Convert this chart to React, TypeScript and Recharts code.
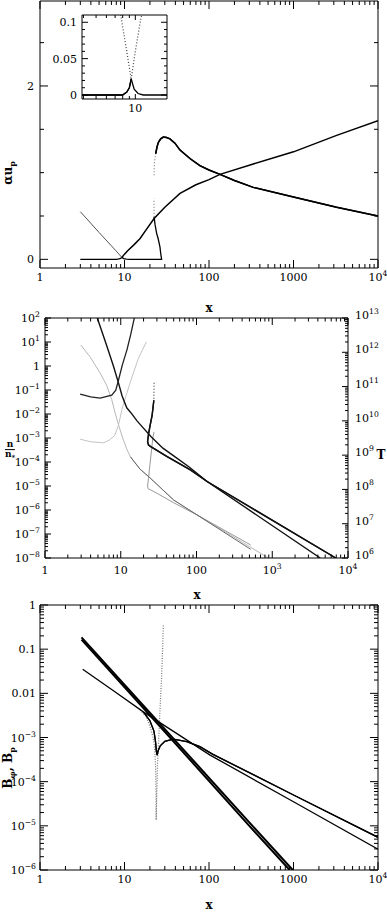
import React from 'react'
import { LineChart, Line, XAxis, YAxis } from 'recharts'

type Pt = [number, number]

// panel 1: alpha u_p against x
const p1Desc: Pt[] = [[3, 0.55], [5, 0.31], [7.9, 0.1], [8.6, 0.06], [9.3, 0.022]]
const p1LowerBranch: Pt[] = [[9.3, 0.022], [9.8, 0.008], [10.5, 0.002], [11.5, 0], [27.5, 0], [26.8, 0.07], [26.3, 0.14], [25, 0.24], [24, 0.3], [23, 0.4], [22.4, 0.49]]
const p1LowerGap: Pt[] = [[22.4, 0.49], [22.35, 0.6], [22.35, 0.7]]
const p1BaseFlat: Pt[] = [[3, 0], [8, 0], [8.6, 0.004], [9, 0.01], [9.3, 0.022]]
const p1Rising: Pt[] = [[9.3, 0.022], [10, 0.06], [10.9, 0.1], [13, 0.17], [15.3, 0.24], [18, 0.34], [22.4, 0.47], [30, 0.6], [45.4, 0.76], [70, 0.86], [100, 0.92], [135, 0.98], [334, 1.1], [1000, 1.24], [3240, 1.43], [10000, 1.6]]
const p1UpperDotted: Pt[] = [[22.4, 0.97], [22.5, 1.1], [23.4, 1.22]]
const p1Upper: Pt[] = [[23.4, 1.22], [24.3, 1.3], [25.2, 1.35], [26.8, 1.39], [28.8, 1.41], [31.5, 1.405], [34.5, 1.39], [39.5, 1.34], [45.4, 1.26], [60, 1.16], [78, 1.08], [100, 1.03], [135, 0.98], [200, 0.91], [334, 0.83], [1000, 0.72], [3240, 0.6], [10000, 0.5]]

// panel 2: n/n* (left) and T (right)
const p2nFall: Pt[] = [[2.97, 7.5], [4, 2.24], [5.35, 0.5], [6.5, 0.16], [7.6, 0.04], [8.5, 0.01], [9.35, 3.5e-3], [10.5, 1.1e-3], [12, 3.5e-4], [13.4, 1.66e-4], [18, 5e-5], [23.4, 2.45e-5], [50, 2.6e-6], [102, 6.2e-7], [890, 1e-8]]
const p2nRise: Pt[] = [[2.91, 8.9e-4], [4, 7e-4], [5.9, 6.3e-4], [7, 8e-4], [8.3, 1.26e-3], [9.35, 3.5e-3], [10.4, 1.6e-2], [12, 7.2e-2], [14.1, 0.35], [17, 2], [21.8, 10.2]]
const p2nHook: Pt[] = [[27.5, 1.8e-3], [26.5, 1e-3], [25.5, 3.2e-4], [24.3, 7.9e-5], [23.2, 2e-5], [22.6, 1e-5], [23, 7.6e-6], [25, 6.8e-6], [30, 5e-6], [50, 2e-6], [102, 6.2e-7], [519, 3.5e-8]]
const p2nTail: Pt[] = [[13.4, 1.66e-4], [18, 5e-5], [23.4, 2.45e-5], [50, 2.6e-6], [102, 6.2e-7], [519, 2.3e-8]]
const p2TFall: Pt[] = [[4.9, 1e13], [6.5, 1.6e12], [8, 4e11], [9.35, 1.26e11], [10.4, 5.4e10], [12, 2.4e10], [14, 1.6e10], [16.4, 1e10], [18, 7.9e9], [25, 3.5e9], [36, 1.6e9], [50, 9.5e8], [80, 4.5e8], [138, 1.7e8], [4300, 1e6]]
const p2TDip: Pt[] = [[2.91, 6e10], [4, 5e10], [5.35, 4.6e10], [7.6, 5.6e10], [8.6, 7.9e10], [9.35, 1.55e11], [10.5, 4.3e11], [12.1, 1.2e12], [13.5, 3.2e12], [15.1, 1e13]]
const p2THookDot: Pt[] = [[27.6, 1.3e11], [27.3, 4e10]]
const p2THook: Pt[] = [[27.3, 4e10], [27.2, 3.6e10], [26, 1.5e10], [24.5, 7.6e9], [23.4, 4.5e9], [22.6, 2.5e9], [23.2, 2e9], [24.6, 1.8e9], [41, 9.1e8], [83, 3.7e8], [138, 1.7e8], [6900, 1e6]]

// panel 3: B_phi, B_p
const p3SteepA: Pt[] = [[3.1, 0.185], [30, 1.55e-3], [300, 1.2e-5], [980, 1e-6]]
const p3SteepB: Pt[] = [[3.1, 0.165], [30, 1.35e-3], [300, 1.0e-5], [900, 1e-6]]
const p3Shallow: Pt[] = [[3.2, 0.035], [8, 0.0103], [16.7, 3.8e-3], [40, 1.29e-3], [103, 4e-4], [1000, 3.5e-5], [10000, 2.95e-6]]
const p3Cusp: Pt[] = [[16.7, 3.8e-3], [20, 2.4e-3], [22.3, 1.4e-3], [23.3, 8e-4], [23.8, 5e-4], [24.3, 4e-4], [25, 5e-4], [26.5, 6.5e-4], [30, 8.2e-4], [37.8, 9.2e-4], [54.5, 8.1e-4], [78, 6.2e-4], [110, 4.2e-4], [1000, 5e-5], [10000, 5.5e-6]]
const p3Spike: Pt[] = [[15.3, 4.2e-3], [18, 3e-3], [20, 1.8e-3], [21.5, 1.1e-3], [22.4, 7.4e-4], [23, 4e-4], [23.3, 2.2e-4], [23.5, 1e-4], [23.6, 5.5e-5], [23.7, 1.35e-5], [24, 3.9e-5], [24.3, 1e-4], [24.5, 2.2e-4], [25.4, 8.7e-4], [26.3, 4.2e-3], [27.5, 0.024], [28.2, 0.095], [28.8, 0.35]]

// tick values and labels
const xMajors = [1, 10, 100, 1000, 10000]
const p1XLabels = ['1', '10', '100', '1000', '10^4']
const p2XLabels = ['1', '10', '100', '10^3', '10^4']
const p1YTicks = [0, 0.5, 1, 1.5, 2, 2.5]
const p1YMajors = [0, 2]
const p1YLabels = ['0', '2']
const p2NMajors = [1e2, 1e1, 1, 1e-1, 1e-2, 1e-3, 1e-4, 1e-5, 1e-6, 1e-7, 1e-8]
const p2NLabels = ['10^2', '10^1', '1', '10^-1', '10^-2', '10^-3', '10^-4', '10^-5', '10^-6', '10^-7', '10^-8']
const p2TMajors = [1e13, 1e12, 1e11, 1e10, 1e9, 1e8, 1e7, 1e6]
const p2TLabels = ['10^13', '10^12', '10^11', '10^10', '10^9', '10^8', '10^7', '10^6']
const p3YMajors = [1, 0.1, 0.01, 1e-3, 1e-4, 1e-5, 1e-6]
const p3YLabels = ['1', '0.1', '0.01', '10^-3', '10^-4', '10^-5', '10^-6']
const insetYTicks = [0, 0.01, 0.02, 0.03, 0.04, 0.05, 0.06, 0.07, 0.08, 0.09, 0.1]
const insetYMajors = [0, 0.05, 0.1]
const insetYLabels = ['0', '0.05', '0.1']
const insetXMajors = [10]
const insetXLabels = ['10']

const FONT = '"DejaVu Serif", "Liberation Serif", serif'

function logTicks(lo: number, hi: number) {
  const t: number[] = []
  for (let e = Math.floor(Math.log10(lo)); e <= Math.ceil(Math.log10(hi)); e++) {
    for (let d = 1; d < 10; d++) {
      const v = Number(`${d}e${e}`)
      if (v >= lo && v <= hi) t.push(v)
    }
  }
  return t
}

function TickLabel({ s, x, y, anchor, size = 11 }: { s: string; x: number; y: number; anchor: string; size?: number }) {
  const i = s.indexOf('^')
  return (
    <text x={x} y={y} textAnchor={anchor as any} fontSize={size} fontFamily={FONT} fill="#000">
      {i < 0 ? s : (
        <>
          {s.slice(0, i)}
          <tspan dy={-5} fontSize={size * 0.7}>{s.slice(i + 1).replace('-', '\u2212')}</tspan>
        </>
      )}
    </text>
  )
}

type Side = 'bottom' | 'top' | 'left' | 'right'

function tickFn(side: Side, majors: number[], labels: string[] | null, big = 8, small = 4, gap = 5, size = 11, below = 13, rightDy = 2) {
  return (props: any) => {
    const { x, y, payload } = props
    const v = payload.value
    const i = majors.findIndex((m) => Math.abs(m - v) <= Math.abs(m) * 1e-6 + 1e-12)
    const len = i >= 0 ? big : small
    let x2 = x
    let y2 = y
    if (side === 'bottom') y2 = y - len
    if (side === 'top') y2 = y + len
    if (side === 'left') x2 = x + len
    if (side === 'right') x2 = x - len
    const lab = i >= 0 && labels ? labels[i] : null
    let tx = x
    let ty = y + below
    let anchor = 'middle'
    if (side === 'left') { tx = x - gap; ty = y + 4; anchor = 'end' }
    if (side === 'right') { tx = x + gap; ty = y + rightDy; anchor = 'start' }
    return (
      <g>
        <line x1={x} y1={y} x2={x2} y2={y2} stroke="#000" strokeWidth={1} />
        {lab ? <TickLabel s={lab} x={tx} y={ty} anchor={anchor} size={size} /> : null}
      </g>
    )
  }
}

const ax = {
  type: 'number' as const,
  allowDataOverflow: true,
  tickSize: 0,
  tickMargin: 0,
  tickLine: false,
  interval: 0 as const,
  stroke: '#000',
}

function series(key: string, pts: Pt[], stroke: string, width: number, dash?: string, yAxisId: string | number = 0, xAxisId: string | number = 0) {
  return (
    <Line
      key={key}
      data={pts.map(([x, y]) => ({ x, y }))}
      dataKey="y"
      xAxisId={xAxisId}
      yAxisId={yAxisId}
      type="linear"
      stroke={stroke}
      strokeWidth={width}
      strokeDasharray={dash}
      dot={false}
      activeDot={false}
      isAnimationActive={false}
    />
  )
}

const title: React.CSSProperties = { position: 'absolute', fontFamily: FONT, fontWeight: 'bold', fontSize: 12, lineHeight: '14px', whiteSpace: 'nowrap' }

export default function App() {
  const xt = logTicks(1, 1e4)
  return (
    <div style={{ position: 'absolute', left: 0, top: 0, width: 387, height: 913, background: '#fff' }}>
      {/* panel 1 */}
      <div style={{ position: 'absolute', left: 0, top: 0 }}>
        <LineChart width={387} height={300} margin={{ top: 0, right: 8, bottom: 0, left: 0 }}>
          <XAxis {...ax} dataKey="x" scale="log" domain={[1, 10000]} ticks={xt} height={32} tick={tickFn('bottom', xMajors, p1XLabels)} />
          <XAxis {...ax} xAxisId="top" orientation="top" dataKey="x" scale="log" domain={[1, 10000]} ticks={xt} height={1} tick={tickFn('top', xMajors, null)} />
          <YAxis {...ax} domain={[-0.1, 2.98]} ticks={p1YTicks} width={40} tick={tickFn('left', p1YMajors, p1YLabels, 8, 4, 6)} />
          <YAxis {...ax} yAxisId="r" orientation="right" domain={[-0.1, 2.98]} ticks={p1YTicks} width={1} tick={tickFn('right', p1YMajors, null)} />
          {series('a', p1Desc, '#555', 1)}
          {series('b', p1LowerBranch, '#000', 1.3)}
          {series('c', p1LowerGap, '#666', 1, '1 2')}
          {series('d', p1BaseFlat, '#000', 1.3)}
          {series('e', p1Rising, '#000', 1.5)}
          {series('f', p1UpperDotted, '#666', 1, '1 2')}
          {series('g', p1Upper, '#000', 1.5)}
          {series('g2', p1Upper, '#000', 1.5, undefined, 'r', 'top')}
        </LineChart>
      </div>
      {/* inset */}
      <div style={{ position: 'absolute', left: 45, top: 5 }}>
        <LineChart width={130} height={110} margin={{ top: 9, right: 7, bottom: 0, left: 0 }}>
          <XAxis {...ax} dataKey="x" scale="log" domain={[3.9, 17.5]} ticks={logTicks(3.9, 17.5)} height={16} tick={tickFn('bottom', insetXMajors, insetXLabels, 5, 3)} />
          <XAxis {...ax} xAxisId="top" orientation="top" dataKey="x" scale="log" domain={[3.9, 17.5]} ticks={logTicks(3.9, 17.5)} height={1} tick={tickFn('top', insetXMajors, null, 5, 3)} />
          <YAxis {...ax} domain={[-0.0055, 0.11]} ticks={insetYTicks} width={37} tick={tickFn('left', insetYMajors, insetYLabels, 6, 3, 5)} />
          <YAxis {...ax} yAxisId="r" orientation="right" domain={[-0.0055, 0.11]} ticks={insetYTicks} width={1} tick={tickFn('right', insetYMajors, null, 6, 3)} />
          {series('a', p1Desc, '#444', 1.2, '1 2')}
          {series('b', p1LowerBranch, '#000', 1.3)}
          {series('d', p1BaseFlat, '#000', 1.3)}
          {series('e', p1Rising, '#444', 1.2, '1 2')}
          {series('d2', p1BaseFlat, '#000', 1.3, undefined, 'r', 'top')}
        </LineChart>
      </div>
      <div style={{ ...title, left: 209, top: 308, transform: 'translate(-50%,-50%)' }}>x</div>
      <div style={{ ...title, left: 10, top: 173, transform: 'translate(-50%,-50%) rotate(-90deg)' }}>
        αu<span style={{ fontSize: 8, verticalAlign: 'sub' }}>p</span>
      </div>

      {/* panel 2 */}
      <div style={{ position: 'absolute', left: 0, top: 300 }}>
        <LineChart width={387} height={300} margin={{ top: 17, right: 0, bottom: 0, left: 0 }}>
          <XAxis {...ax} dataKey="x" scale="log" domain={[1, 10000]} ticks={xt} height={42} tick={tickFn('bottom', xMajors, p2XLabels, 7, 3.5, 5, 11, 16)} />
          <XAxis {...ax} xAxisId="top" orientation="top" dataKey="x" scale="log" domain={[1, 10000]} ticks={xt} height={1} tick={tickFn('top', xMajors, null, 7, 3.5)} />
          <YAxis {...ax} scale="log" domain={[1e-8, 100]} ticks={logTicks(1e-8, 100)} width={45} tick={tickFn('left', p2NMajors, p2NLabels, 6, 3, 5)} />
          <YAxis {...ax} yAxisId="T" orientation="right" scale="log" domain={[1e6, 1e13]} ticks={logTicks(1e6, 1e13)} width={39} tick={tickFn('right', p2TMajors, p2TLabels, 6, 3, 7, 11, 13, 1)} />
          {series('n1', p2nFall, '#b8b8b8', 1)}
          {series('n2', p2nRise, '#c4c4c4', 1)}
          {series('n3', p2nHook, '#999', 1)}
          {series('n4', p2nTail, '#666', 1)}
          {series('t1', p2TFall, '#111', 1.4, undefined, 'T')}
          {series('t2', p2TDip, '#222', 1.3, undefined, 'T')}
          {series('t3', p2THookDot, '#444', 1.2, '1 2', 'T')}
          {series('t4', p2THook, '#111', 1.4, undefined, 'T')}
          {series('t4b', p2THook, '#111', 1.4, undefined, 'T', 'top')}
        </LineChart>
      </div>
      <div style={{ ...title, left: 197, top: 595, transform: 'translate(-50%,-50%)' }}>x</div>
      <div style={{ ...title, left: 381, top: 455, transform: 'translate(-50%,-50%)' }}>T</div>
      <div style={{ ...title, left: 10, top: 451, transform: 'translate(-50%,-50%)', fontSize: 9, lineHeight: '9px', textAlign: 'center' }}>
        <div style={{ borderBottom: '1px solid #000', padding: '0 1px' }}>n</div>
        <div>n<span style={{ fontSize: 7, verticalAlign: 'sub' }}>*</span></div>
      </div>

      {/* panel 3 */}
      <div style={{ position: 'absolute', left: 0, top: 600 }}>
        <LineChart width={387} height={313} margin={{ top: 4, right: 8, bottom: 0, left: 0 }}>
          <XAxis {...ax} dataKey="x" scale="log" domain={[1, 10000]} ticks={xt} height={43} tick={tickFn('bottom', xMajors, p1XLabels)} />
          <XAxis {...ax} xAxisId="top" orientation="top" dataKey="x" scale="log" domain={[1, 10000]} ticks={xt} height={1} tick={tickFn('top', xMajors, null)} />
          <YAxis {...ax} scale="log" domain={[1e-6, 1]} ticks={logTicks(1e-6, 1)} width={40} tick={tickFn('left', p3YMajors, p3YLabels, 8, 4, 4)} />
          <YAxis {...ax} yAxisId="r" orientation="right" scale="log" domain={[1e-6, 1]} ticks={logTicks(1e-6, 1)} width={1} tick={tickFn('right', p3YMajors, null)} />
          {series('s', p3Spike, '#777', 1.2, '1 1.5')}
          {series('a', p3SteepA, '#000', 2)}
          {series('b', p3SteepB, '#000', 2)}
          {series('c', p3Shallow, '#000', 1.3)}
          {series('d', p3Cusp, '#000', 1.3)}
          {series('d2', p3Cusp, '#000', 1.3, undefined, 'r', 'top')}
        </LineChart>
      </div>
      <div style={{ ...title, left: 209, top: 905, transform: 'translate(-50%,-50%)' }}>x</div>
      <div style={{ ...title, left: 10, top: 768, transform: 'translate(-50%,-50%) rotate(-90deg)' }}>
        B<span style={{ fontSize: 8, verticalAlign: 'sub' }}>φ</span>, B<span style={{ fontSize: 8, verticalAlign: 'sub' }}>p</span>
      </div>
    </div>
  )
}
